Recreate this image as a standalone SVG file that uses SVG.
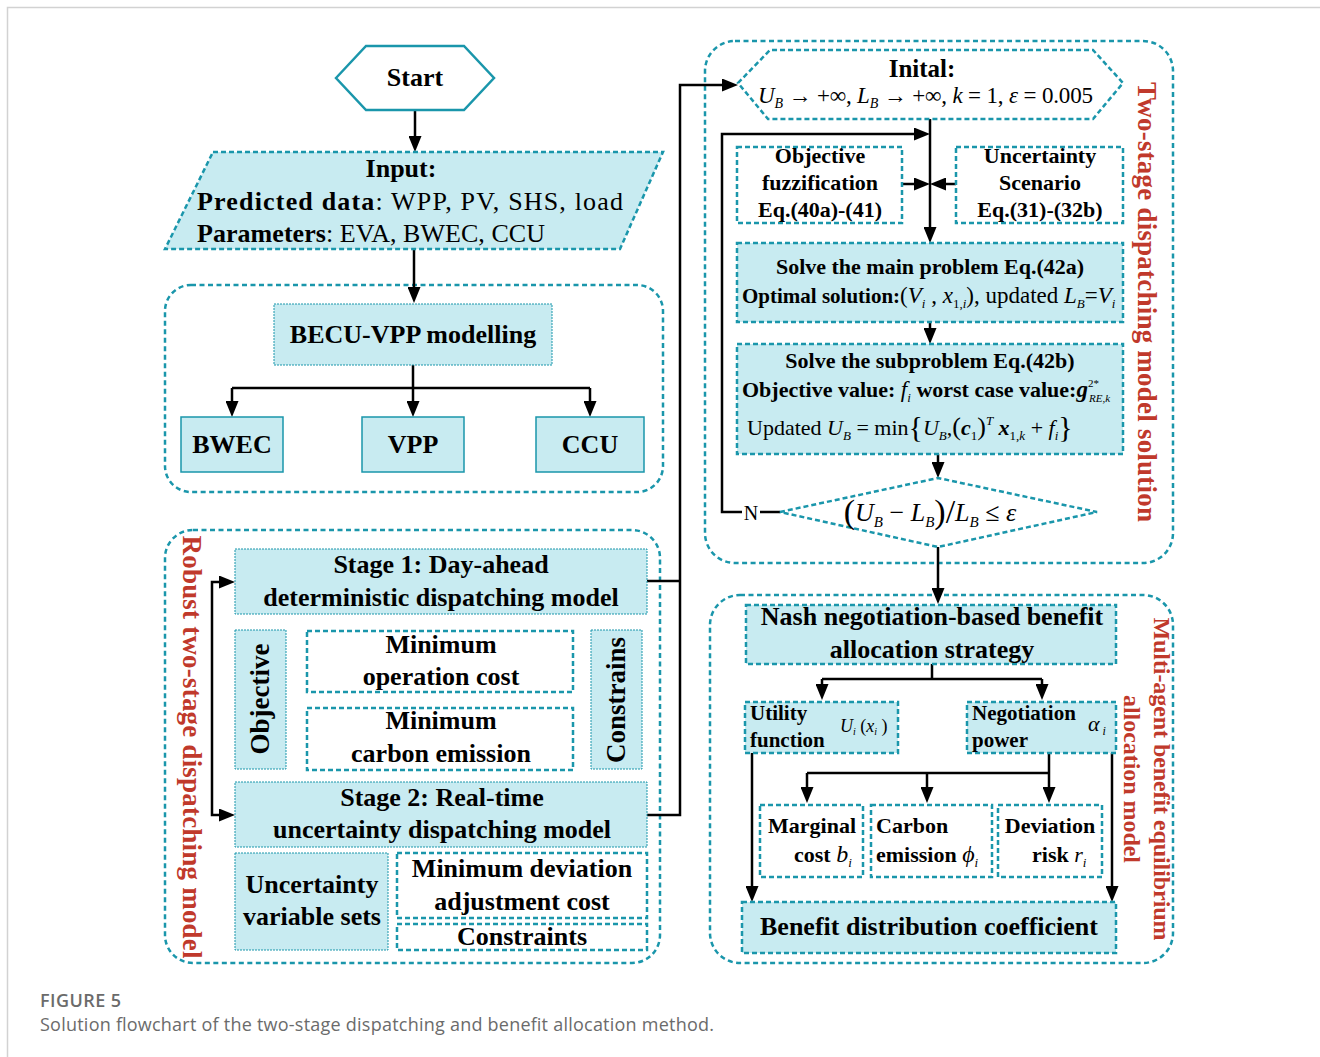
<svg xmlns="http://www.w3.org/2000/svg" width="1320" height="1057" viewBox="0 0 1320 1057">
<defs>
<marker id="ah" markerUnits="userSpaceOnUse" markerWidth="16" markerHeight="13" refX="8" refY="6.5" orient="auto"><path d="M0,0 L16,6.5 L0,13 z" fill="#000"/></marker>
<style>
.t{font-family:"Liberation Serif","Times New Roman",serif;font-weight:bold;fill:#000;text-anchor:middle}
.s{text-anchor:start}
.n{font-weight:normal}
.i{font-style:italic;font-weight:normal}
.bi{font-style:italic;font-weight:bold}
.red{fill:#c0392b}
.g{fill:none;stroke:#1a96ab;stroke-width:2.5;stroke-dasharray:5 3.5}
.fb{fill:#c8ebf1;stroke:#1a96ab;stroke-width:2.5;stroke-dasharray:5 3}
.wb{fill:#fff;stroke:#1a96ab;stroke-width:2.5;stroke-dasharray:5 3}
.tb{fill:#c8ebf1;stroke:#1a96ab;stroke-width:1;stroke-dasharray:2 1}
.sb{fill:#c8ebf1;stroke:#1a96ab;stroke-width:1.5}
.c{fill:none;stroke:#000;stroke-width:2.5}
.a{marker-end:url(#ah)}
.cap{font-family:"Open Sans","Noto Sans",sans-serif;fill:#6b6b6b}
</style>
</defs>
<rect width="1320" height="1057" fill="#fff"/>
<path d="M7.5,1057 V7.5 H1320" fill="none" stroke="#d2d2d2" stroke-width="1.5"/>

<!-- group outlines -->
<g id="group-becu"><rect class="g" x="165" y="285" width="498" height="207" rx="26"/></g>
<g id="group-robust"><rect class="g" x="165" y="530" width="495" height="433" rx="28"/>
<text class="t red" font-size="27" textLength="423" transform="translate(183,747) rotate(90)">Robust two-stage dispatching model</text></g>
<g id="group-twostage"><rect class="g" x="705" y="41" width="468" height="522" rx="30"/>
<text class="t red" font-size="27" textLength="440" transform="translate(1138,302) rotate(90)">Two-stage dispatching model solution</text></g>
<g id="group-multiagent"><rect class="g" x="710" y="595" width="463" height="368" rx="30"/>
<text class="t red" font-size="24" textLength="323" transform="translate(1154,779) rotate(90)">Multi-agent benefit equilibrium</text>
<text class="t red" font-size="24" textLength="168" transform="translate(1124,779) rotate(90)">allocation model</text></g>

<!-- connectors -->
<g id="connectors">
<path class="c a" d="M415,110 V144"/>
<path class="c a" d="M414,249 V295"/>
<path class="c" d="M413,365 V388 M232,388 H590"/>
<path class="c a" d="M232,388 V409"/>
<path class="c a" d="M413,388 V409"/>
<path class="c a" d="M590,388 V409"/>
<path class="c a" d="M212,698 V582 H227"/>
<path class="c a" d="M212,698 V815 H227"/>
<path class="c" d="M647,581 H680"/>
<path class="c a" d="M647,815 H680 V85 H730"/>
<path class="c a" d="M930,119 V235"/>
<path class="c a" d="M780,512 H760 M742,512 H722 V134 H922"/>
<path class="c a" d="M902,184 H922"/>
<path class="c a" d="M956,184 H938"/>
<path class="c a" d="M930,322 V336"/>
<path class="c a" d="M938,454 V470"/>
<path class="c a" d="M938,547 V596"/>
<path class="c" d="M932,664 V679 M822,679 H1042"/>
<path class="c a" d="M822,679 V692"/>
<path class="c a" d="M1042,679 V692"/>
<path class="c a" d="M752,753 V894"/>
<path class="c a" d="M1112,753 V894"/>
<path class="c" d="M1049,753 V773 M807,773 H1049"/>
<path class="c a" d="M807,773 V795"/>
<path class="c a" d="M927,773 V795"/>
<path class="c a" d="M1049,773 V795"/>
<text class="t n" x="751" y="520" font-size="20">N</text>
</g>

<!-- nodes -->
<g id="start"><polygon points="336,78 366,46 464,46 494,78 464,110 366,110" fill="#fff" stroke="#1a96ab" stroke-width="2.5"/>
<text class="t" x="415" y="86" font-size="26">Start</text></g>

<g id="input"><polygon class="fb" points="213,152 663,152 620,249 165,249"/>
<text class="t" x="401" y="177" font-size="26">Input:</text>
<text class="t s" x="197" y="210" font-size="26" textLength="426">Predicted data<tspan class="n">: WPP, PV, SHS, load</tspan></text>
<text class="t s" x="197" y="242" font-size="26" textLength="348">Parameters<tspan class="n">: EVA, BWEC, CCU</tspan></text></g>

<g id="becu-vpp"><rect class="tb" x="274" y="304" width="278" height="61"/>
<text class="t" x="413" y="343" font-size="26">BECU-VPP modelling</text></g>
<g id="bwec"><rect class="sb" x="181" y="417" width="102" height="55"/><text class="t" x="232" y="453" font-size="26">BWEC</text></g>
<g id="vpp"><rect class="sb" x="362" y="417" width="102" height="55"/><text class="t" x="413" y="453" font-size="26">VPP</text></g>
<g id="ccu"><rect class="sb" x="536" y="417" width="108" height="55"/><text class="t" x="590" y="453" font-size="26">CCU</text></g>

<g id="stage1"><rect class="tb" x="235" y="549" width="412" height="65"/>
<text class="t" x="441" y="573" font-size="26">Stage 1: Day-ahead</text>
<text class="t" x="441" y="606" font-size="26">deterministic dispatching model</text></g>
<g id="objective"><rect class="tb" x="235" y="630" width="51" height="139"/>
<text class="t" font-size="27" transform="translate(269,699) rotate(-90)">Objective</text></g>
<g id="min-op-cost"><rect class="wb" x="307" y="631" width="266" height="61"/>
<text class="t" x="441" y="653" font-size="26">Minimum</text>
<text class="t" x="441" y="685" font-size="26">operation cost</text></g>
<g id="min-carbon"><rect class="wb" x="307" y="708" width="266" height="62"/>
<text class="t" x="441" y="729" font-size="26">Minimum</text>
<text class="t" x="441" y="762" font-size="26">carbon emission</text></g>
<g id="constrains"><rect class="tb" x="591" y="630" width="51" height="139"/>
<text class="t" font-size="27" transform="translate(625,700) rotate(-90)">Constrains</text></g>
<g id="stage2"><rect class="tb" x="235" y="782" width="412" height="65"/>
<text class="t" x="442" y="806" font-size="26">Stage 2: Real-time</text>
<text class="t" x="442" y="838" font-size="26">uncertainty dispatching model</text></g>
<g id="uncertainty-sets"><rect class="tb" x="235" y="853" width="153" height="97"/>
<text class="t" x="312" y="893" font-size="26">Uncertainty</text>
<text class="t" x="312" y="925" font-size="26">variable sets</text></g>
<g id="min-deviation"><rect class="wb" x="397" y="853" width="250" height="65"/>
<text class="t" x="522" y="877" font-size="26">Minimum deviation</text>
<text class="t" x="522" y="910" font-size="26">adjustment cost</text></g>
<g id="constraints"><rect class="wb" x="397" y="924" width="250" height="26"/>
<text class="t" x="522" y="945" font-size="26">Constraints</text></g>

<g id="initial"><polygon points="738,83 770,50 1093,50 1123,83 1093,119 768,119" fill="#fff" stroke="#1a96ab" stroke-width="2.5" stroke-dasharray="5 3"/>
<text class="t" x="922" y="77" font-size="25">Inital:</text>
<text class="t s n" x="758" y="103" font-size="23" textLength="335"><tspan class="i">U</tspan><tspan class="i" font-size="14" dy="5">B</tspan><tspan dy="-5"> → +∞, </tspan><tspan class="i">L</tspan><tspan class="i" font-size="14" dy="5">B</tspan><tspan dy="-5"> → +∞, </tspan><tspan class="i">k</tspan> = 1, <tspan class="i">ε</tspan> = 0.005</text></g>

<g id="obj-fuzz"><rect class="wb" x="737" y="147" width="165" height="76"/>
<text class="t" x="820" y="163" font-size="22">Objective</text>
<text class="t" x="820" y="190" font-size="22">fuzzification</text>
<text class="t" x="820" y="217" font-size="22">Eq.(40a)-(41)</text></g>
<g id="unc-scenario"><rect class="wb" x="956" y="147" width="167" height="76"/>
<text class="t" x="1040" y="163" font-size="22">Uncertainty</text>
<text class="t" x="1040" y="190" font-size="22">Scenario</text>
<text class="t" x="1040" y="217" font-size="22">Eq.(31)-(32b)</text></g>

<g id="main-problem"><rect class="fb" x="737" y="243" width="386" height="79"/>
<text class="t" x="930" y="274" font-size="22">Solve the main problem Eq.(42a)</text>
<text class="t s" x="742" y="303" font-size="21">Optimal solution:<tspan class="n" font-size="23">(<tspan class="i">V</tspan><tspan class="i" font-size="13" dy="5">i</tspan><tspan dy="-5"> , </tspan><tspan class="i">x</tspan><tspan font-size="13" dy="5">1,<tspan class="i">i</tspan></tspan><tspan dy="-5">), updated </tspan><tspan class="i">L</tspan><tspan class="i" font-size="13" dy="5">B</tspan><tspan dy="-5">=</tspan><tspan class="i">V</tspan><tspan class="i" font-size="13" dy="5">i</tspan></tspan></text></g>

<g id="subproblem"><rect class="fb" x="737" y="344" width="386" height="110"/>
<text class="t" x="930" y="368" font-size="22">Solve the subproblem Eq.(42b)</text>
<text class="t s" x="742" y="397" font-size="22">Objective value: <tspan class="i" font-size="23">f</tspan><tspan class="i" font-size="13" dy="5">i</tspan><tspan dy="-5"> worst case value:</tspan><tspan class="bi" font-size="23">g</tspan><tspan class="n" font-size="11" dy="-10">2*</tspan><tspan class="i" font-size="11" dx="-10" dy="15">RE,k</tspan></text>
<text class="t s n" x="747" y="435" font-size="22">Updated <tspan class="i">U</tspan><tspan class="i" font-size="13" dy="5">B</tspan><tspan dy="-5"> = min</tspan><tspan font-size="30" dy="2">{</tspan><tspan class="i" dy="-2">U</tspan><tspan class="i" font-size="13" dy="5">B</tspan><tspan dy="-5">,</tspan><tspan font-size="26">(</tspan><tspan class="bi">c</tspan><tspan font-size="13" dy="5">1</tspan><tspan font-size="26" dy="-5">)</tspan><tspan class="i" font-size="13" dy="-10">T</tspan><tspan dy="10"> </tspan><tspan class="bi">x</tspan><tspan font-size="13" dy="5">1,<tspan class="i">k</tspan></tspan><tspan dy="-5"> + </tspan><tspan class="i">f</tspan><tspan class="i" font-size="13" dy="5">i</tspan><tspan font-size="30" dy="-3">}</tspan></text></g>

<g id="convergence"><polygon points="780,512 938,478 1097,512 938,547" fill="#fff" stroke="#1a96ab" stroke-width="2.5" stroke-dasharray="5 3"/>
<text class="t n" x="930" y="521" font-size="26"><tspan font-size="34" dy="2">(</tspan><tspan class="i" dy="-2">U</tspan><tspan class="i" font-size="15" dy="6">B</tspan><tspan dy="-6"> − </tspan><tspan class="i">L</tspan><tspan class="i" font-size="15" dy="6">B</tspan><tspan font-size="34" dy="-4">)</tspan><tspan font-size="34">/</tspan><tspan class="i" dy="-2">L</tspan><tspan class="i" font-size="15" dy="6">B</tspan><tspan dy="-6"> ≤ </tspan><tspan class="i">ε</tspan></text></g>

<g id="nash"><rect class="fb" x="746" y="605" width="370" height="59"/>
<text class="t" x="932" y="625" font-size="26">Nash negotiation-based benefit</text>
<text class="t" x="932" y="658" font-size="26">allocation strategy</text></g>
<g id="utility"><rect class="fb" x="745" y="702" width="153" height="51"/>
<text class="t s" x="750" y="720" font-size="21">Utility</text>
<text class="t s" x="750" y="747" font-size="21">function</text>
<text class="t s n" x="840" y="732" font-size="18"><tspan class="i">U</tspan><tspan class="i" font-size="10" dy="3">i</tspan><tspan dy="-3"> (</tspan><tspan class="i">x</tspan><tspan class="i" font-size="10" dy="3">i</tspan><tspan dy="-3"> )</tspan></text></g>
<g id="negotiation"><rect class="fb" x="967" y="702" width="149" height="51"/>
<text class="t s" x="972" y="720" font-size="21">Negotiation</text>
<text class="t s" x="972" y="747" font-size="21">power</text>
<text class="t s n" x="1088" y="731" font-size="22"><tspan class="i">α</tspan><tspan class="i" font-size="12" dy="4"> i</tspan></text></g>
<g id="marginal"><rect class="wb" x="760" y="805" width="103" height="72"/>
<text class="t" x="812" y="833" font-size="22">Marginal</text>
<text class="t s" x="794" y="862" font-size="22">cost <tspan class="i" font-size="24">b</tspan><tspan class="i" font-size="13" dy="5">i</tspan></text></g>
<g id="carbon"><rect class="wb" x="871" y="805" width="121" height="72"/>
<text class="t s" x="876" y="833" font-size="22">Carbon</text>
<text class="t s" x="876" y="862" font-size="22">emission <tspan class="i" font-size="24">ϕ</tspan><tspan class="i" font-size="13" dy="5">i</tspan></text></g>
<g id="deviation"><rect class="wb" x="998" y="805" width="104" height="72"/>
<text class="t" x="1050" y="833" font-size="22">Deviation</text>
<text class="t s" x="1032" y="862" font-size="22">risk <tspan class="i" font-size="22">r</tspan><tspan class="i" font-size="13" dy="5">i</tspan></text></g>
<g id="benefit"><rect class="fb" x="742" y="902" width="374" height="51"/>
<text class="t" x="929" y="935" font-size="26">Benefit distribution coefficient</text></g>

<g id="caption">
<text class="cap" x="40" y="1007" font-size="18" font-weight="600" textLength="81">FIGURE 5</text>
<text class="cap" x="40" y="1031" font-size="18" textLength="674">Solution flowchart of the two-stage dispatching and benefit allocation method.</text>
</g>
</svg>
